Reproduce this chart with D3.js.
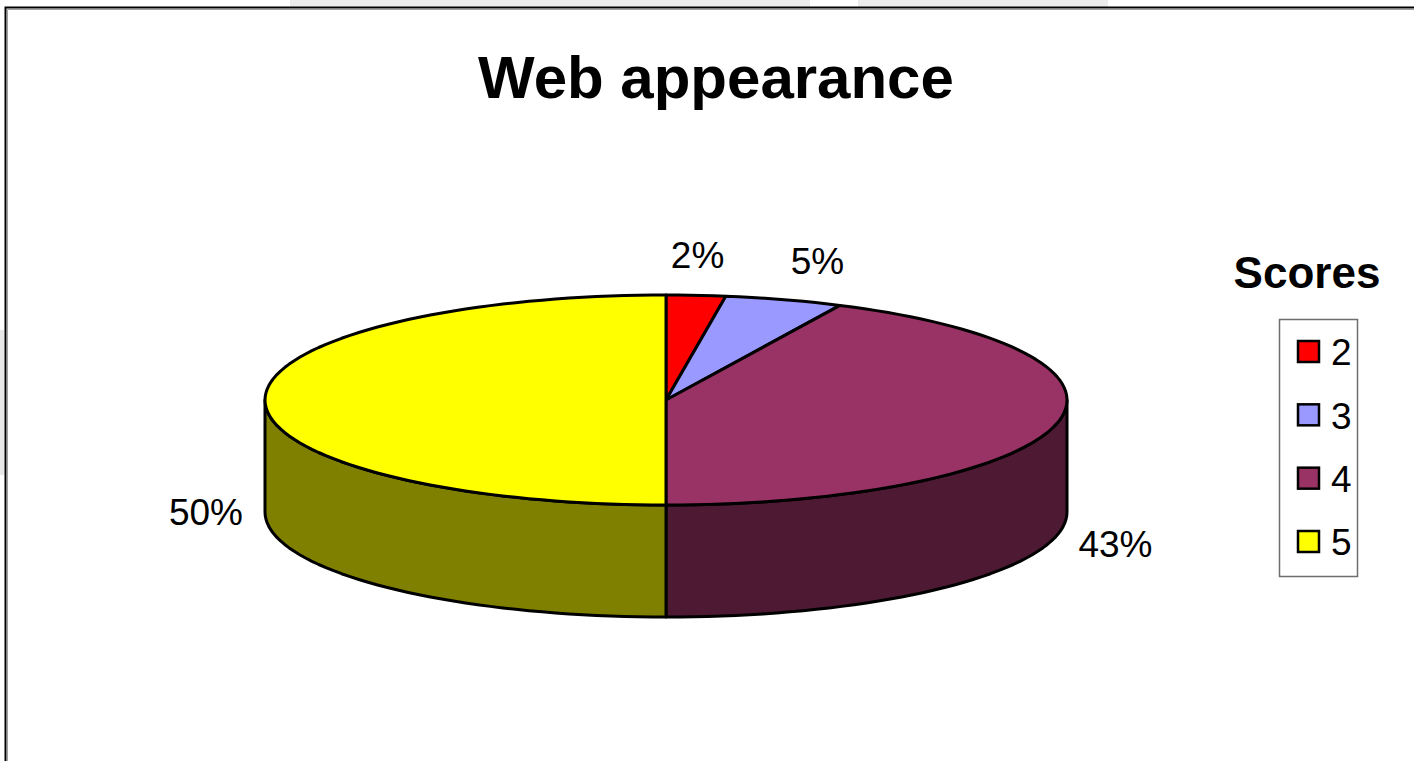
<!DOCTYPE html>
<html>
<head>
<meta charset="utf-8">
<script src="https://cdn.jsdelivr.net/npm/d3@7"></script>
<style>
  html, body { margin: 0; padding: 0; background: #fff; }
  svg { display: block; }
  text { font-family: Arial, "Liberation Sans", sans-serif; }
</style>
</head>
<body>
<svg id="chart" width="1414" height="761"></svg>
<script>
// ---- data ----
const categories = ["2", "3", "4", "5"];
const counts = [1, 2, 18, 21];
const percentLabels = ["2%", "5%", "43%", "50%"];
const topColors = ["#FF0000", "#9999FF", "#993366", "#FFFF00"];
const sideColors = ["#800000", "#4D4D80", "#4D1933", "#808000"];
const chartTitle = "Web appearance";
const legendTitle = "Scores";

// ---- layout ----
const W = 1414, H = 761;
const cx = 666, cy = 400, rx = 401, ry = 105, depth = 112;

const svg = d3.select("#chart");
svg.append("rect").attr("width", W).attr("height", H).attr("fill", "#fff");

// faint background shapes behind the frame
svg.append("rect").attr("x", 290).attr("y", 0).attr("width", 520).attr("height", 7).attr("fill", "#ececec");
svg.append("rect").attr("x", 858).attr("y", 0).attr("width", 250).attr("height", 7).attr("fill", "#ececec");
svg.append("rect").attr("x", 0).attr("y", 330).attr("width", 4).attr("height", 145).attr("fill", "#e8e8e8");

// chart frame (right/bottom edges lie outside the picture)
svg.append("path").attr("d", `M5.5,${H + 5} V7.5 H${W + 5}`).attr("fill", "none")
  .attr("stroke", "#000").attr("stroke-width", 2);
svg.append("path").attr("d", `M7.5,${H + 5} V9.5 H${W + 5}`).attr("fill", "none")
  .attr("stroke", "#a0a0a0").attr("stroke-width", 1);

// title
svg.append("text").attr("x", 716).attr("y", 98).attr("text-anchor", "middle")
  .attr("font-size", 60).attr("font-weight", "bold").attr("fill", "#000").text(chartTitle);

// ---- pie ----
const pie = d3.pie().sort(null).value(d => d)(counts);
const ex = a => cx + rx * Math.sin(a);
const ey = a => cy - ry * Math.cos(a);
const stepA = Math.PI / 90;
function sample(a0, a1) {
  const n = Math.max(2, Math.ceil((a1 - a0) / stepA));
  return d3.range(n + 1).map(i => a0 + (a1 - a0) * i / n);
}
const line = d3.line();

// sides (only the front half, angles between PI/2 and 3PI/2)
const g = svg.append("g");
pie.forEach((s, i) => {
  const a0 = Math.max(s.startAngle, Math.PI / 2);
  const a1 = Math.min(s.endAngle, 3 * Math.PI / 2);
  if (a1 <= a0) return;
  const angs = sample(a0, a1);
  const topPts = angs.map(a => [ex(a), ey(a)]);
  const botPts = angs.slice().reverse().map(a => [ex(a), ey(a) + depth]);
  g.append("path").attr("d", line(topPts.concat(botPts)) + "Z")
    .attr("fill", sideColors[i]).attr("stroke", "#000").attr("stroke-width", 3)
    .attr("stroke-linejoin", "round");
});

// tops
pie.forEach((s, i) => {
  const pts = [[cx, cy]].concat(sample(s.startAngle, s.endAngle).map(a => [ex(a), ey(a)]));
  g.append("path").attr("d", line(pts) + "Z")
    .attr("fill", topColors[i]).attr("stroke", "#000").attr("stroke-width", 3)
    .attr("stroke-linejoin", "round");
});

// data labels
pie.forEach((s, i) => {
  const m = (s.startAngle + s.endAngle) / 2;
  const sn = Math.sin(m), cs = Math.cos(m);
  const x = cx + (rx + 22) * sn;
  let y = cy - (ry + 40) * cs;
  if (cs < 0.05) y += depth;
  const anchor = sn > 0.2 ? "start" : (sn < -0.2 ? "end" : "middle");
  svg.append("text").attr("x", x).attr("y", y).attr("dy", "0.35em")
    .attr("text-anchor", anchor).attr("font-size", 37).attr("fill", "#000")
    .text(percentLabels[i]);
});

// ---- legend ----
svg.append("text").attr("x", 1307).attr("y", 288).attr("text-anchor", "middle")
  .attr("font-size", 44).attr("font-weight", "bold").attr("fill", "#000").text(legendTitle);
svg.append("rect").attr("x", 1279.5).attr("y", 319.5).attr("width", 78).attr("height", 257)
  .attr("fill", "#fff").attr("stroke", "#6e6e6e").attr("stroke-width", 1.5);
const ly = d3.scalePoint().domain(categories).range([352, 542]);
categories.forEach((c, i) => {
  svg.append("rect").attr("x", 1298).attr("y", ly(c) - 11).attr("width", 21).attr("height", 21)
    .attr("fill", topColors[i]).attr("stroke", "#000").attr("stroke-width", 2.5);
  svg.append("text").attr("x", 1331).attr("y", ly(c)).attr("dy", "0.36em")
    .attr("font-size", 37).attr("fill", "#000").text(c);
});
</script>
</body>
</html>
